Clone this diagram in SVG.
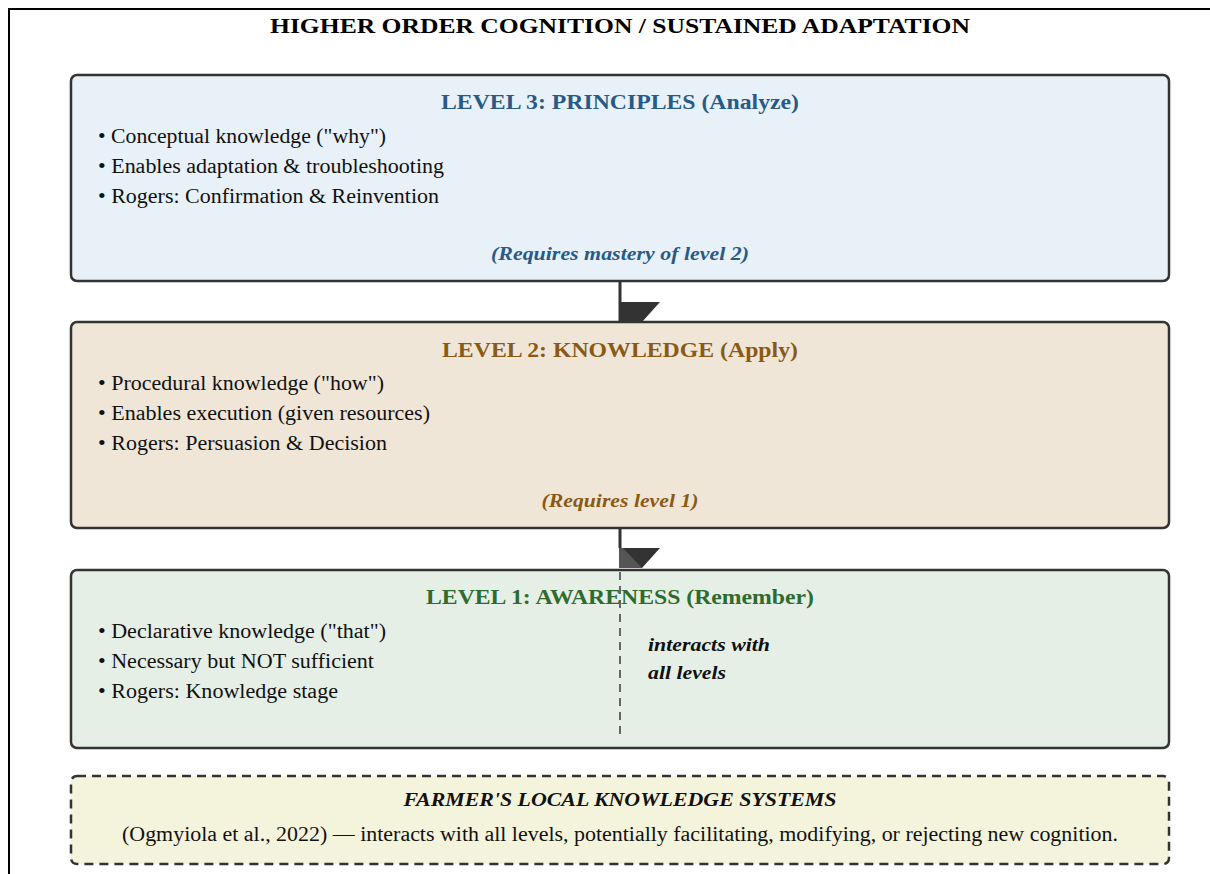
<svg xmlns="http://www.w3.org/2000/svg" width="1210" height="874" viewBox="0 0 1210 874">
<style>
text{font-family:"Liberation Serif","Times New Roman",serif;}
.title{font-size:22px;font-weight:bold;fill:#000;text-anchor:middle;}
.head{font-size:20px;font-weight:bold;text-anchor:middle;}
.b{font-size:20px;fill:#111;}
.note{font-size:19px;font-weight:bold;font-style:italic;text-anchor:middle;}
.box{stroke:#333;stroke-width:2.5;}
</style>
<rect x="9" y="9" width="1215" height="880" fill="#fff" stroke="#000" stroke-width="2"/>
<text class="title" x="620" y="33" textLength="700" lengthAdjust="spacingAndGlyphs">HIGHER ORDER COGNITION / SUSTAINED ADAPTATION</text>
<g id="connectors">
<line x1="620" y1="281" x2="620" y2="322" stroke="#333" stroke-width="3"/>
<polygon points="620,302 660,302 642,322 620,322" fill="#333"/>
<line x1="620" y1="528" x2="620" y2="548" stroke="#333" stroke-width="3"/>
<polygon points="620,548 660,548 642,568 620,568" fill="#333"/>
<polygon points="619,548 623,548 642,568 619,568" fill="#555"/>
</g>
<g id="level3">
<rect class="box" x="71" y="75" width="1098" height="206" rx="6" fill="#e8f0f8"/>
<text class="head" x="620" y="109" fill="#285a86" textLength="358" lengthAdjust="spacingAndGlyphs">LEVEL 3: PRINCIPLES (Analyze)</text>
<text class="b" x="98" y="143" textLength="288" lengthAdjust="spacingAndGlyphs">• Conceptual knowledge ("why")</text>
<text class="b" x="98" y="173" textLength="346" lengthAdjust="spacingAndGlyphs">• Enables adaptation &amp; troubleshooting</text>
<text class="b" x="98" y="203" textLength="341" lengthAdjust="spacingAndGlyphs">• Rogers: Confirmation &amp; Reinvention</text>
<text class="note" x="620" y="260" fill="#285a86" textLength="258" lengthAdjust="spacingAndGlyphs">(Requires mastery of level 2)</text>
</g>
<g id="level2">
<rect class="box" x="71" y="322" width="1098" height="206" rx="6" fill="#f0e6d8"/>
<text class="head" x="620" y="357" fill="#8a5a14" textLength="356" lengthAdjust="spacingAndGlyphs">LEVEL 2: KNOWLEDGE (Apply)</text>
<text class="b" x="98" y="390" textLength="286" lengthAdjust="spacingAndGlyphs">• Procedural knowledge ("how")</text>
<text class="b" x="98" y="420" textLength="332" lengthAdjust="spacingAndGlyphs">• Enables execution (given resources)</text>
<text class="b" x="98" y="450" textLength="289" lengthAdjust="spacingAndGlyphs">• Rogers: Persuasion &amp; Decision</text>
<text class="note" x="620" y="507" fill="#8a5a14" textLength="157" lengthAdjust="spacingAndGlyphs">(Requires level 1)</text>
</g>
<g id="level1">
<rect class="box" x="71" y="570" width="1098" height="178" rx="6" fill="#e6efe6"/>
<line x1="620" y1="572" x2="620" y2="735" stroke="#666" stroke-width="2" stroke-dasharray="8,6"/>
<text class="head" x="620" y="604" fill="#2e6b2e" textLength="388" lengthAdjust="spacingAndGlyphs">LEVEL 1: AWARENESS (Remember)</text>
<text class="b" x="98" y="638" textLength="288" lengthAdjust="spacingAndGlyphs">• Declarative knowledge ("that")</text>
<text class="b" x="98" y="668" textLength="276" lengthAdjust="spacingAndGlyphs">• Necessary but NOT sufficient</text>
<text class="b" x="98" y="698" textLength="240" lengthAdjust="spacingAndGlyphs">• Rogers: Knowledge stage</text>
<text class="note" x="648" y="651" fill="#111" style="text-anchor:start" textLength="122" lengthAdjust="spacingAndGlyphs">interacts with</text>
<text class="note" x="648" y="679" fill="#111" style="text-anchor:start" textLength="78" lengthAdjust="spacingAndGlyphs">all levels</text>
</g>
<g id="local-knowledge">
<rect x="71" y="776" width="1098" height="88" rx="6" fill="#f4f4dc" stroke="#333" stroke-width="2.5" stroke-dasharray="9,6"/>
<text class="note" x="620" y="806" fill="#111" textLength="433" lengthAdjust="spacingAndGlyphs">FARMER'S LOCAL KNOWLEDGE SYSTEMS</text>
<text class="b" x="620" y="841" style="text-anchor:middle" textLength="996" lengthAdjust="spacingAndGlyphs">(Ogmyiola et al., 2022) — interacts with all levels, potentially facilitating, modifying, or rejecting new cognition.</text>
</g>
</svg>
